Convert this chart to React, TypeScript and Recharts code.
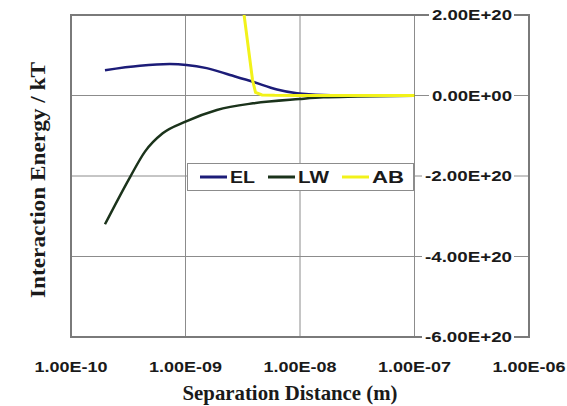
import React from 'react';
import { LineChart, Line, XAxis, YAxis, CartesianGrid, Legend, ReferenceArea } from 'recharts';

// ---- axis ticks ----
const xTicks = [1e-10, 1e-9, 1e-8, 1e-7, 1e-6];
const xTickLabels = ['1.00E-10', '1.00E-09', '1.00E-08', '1.00E-07', '1.00E-06'];
const yTicks = [-6e20, -4e20, -2e20, 0, 2e20];
const yTickLabels = ['-6.00E+20', '-4.00E+20', '-2.00E+20', '0.00E+00', '2.00E+20'];

// ---- series: EL ----
const elDistance = [1.98e-10, 4.0e-10, 7.3e-10, 1.02e-9, 1.53e-9, 2.45e-9, 3.89e-9, 6.3e-9, 9.4e-9, 1.6e-8, 3.2e-8, 1e-7];
const elEnergy = [6.3e19, 7.4e19, 7.8e19, 7.6e19, 6.8e19, 5.1e19, 3.4e19, 1.5e19, 5.5e18, 1.2e18, 2e17, 0];

// ---- series: LW ----
const lwDistance = [1.98e-10, 3.29e-10, 4.41e-10, 6.32e-10, 1e-9, 1.88e-9, 3.89e-9, 9.9e-9, 1.6e-8, 3.2e-8, 1e-7];
const lwEnergy = [-3.2e20, -2.02e20, -1.4e20, -9.4e19, -6.5e19, -3.6e19, -1.94e19, -8.7e18, -4.5e18, -2.5e18, -3e17];

// ---- series: AB ----
const abDistance = [3.05e-9, 3.85e-9, 4.09e-9, 4.66e-9, 6e-9, 1e-8, 1e-7];
const abEnergy = [2.6e20, 3.85e19, 7.5e18, 1.5e18, 5e17, 2e17, 0];

const seriesNames = ['EL', 'LW', 'AB'];
const seriesColors = ['#1c1c78', '#1b331b', '#f2f21a'];
const legendTextWidths = [25, 31, 32];

const toPoints = (xs: number[], ys: number[]) => xs.map((x, i) => ({ x, y: ys[i] }));
const elData = toPoints(elDistance, elEnergy);
const lwData = toPoints(lwDistance, lwEnergy);
const abData = toPoints(abDistance, abEnergy);

const sansFont = '"Liberation Sans", Arial, sans-serif';
const serifFont = '"Liberation Serif", "Times New Roman", serif';

function XTick(props: any) {
  const { x, y, payload } = props;
  const idx = xTicks.indexOf(payload.value);
  const label = idx >= 0 ? xTickLabels[idx] : String(payload.value);
  return (
    <text x={x} y={y + 35} textAnchor="middle" fontFamily={sansFont} fontWeight="bold" fontSize={14}
      fill="#1a1a1a" textLength={73} lengthAdjust="spacingAndGlyphs">{label}</text>
  );
}

function YTick(props: any) {
  const { x, y, payload } = props;
  const idx = yTicks.indexOf(payload.value);
  const label = idx >= 0 ? yTickLabels[idx] : String(payload.value);
  const neg = label.startsWith('-');
  const w = neg ? 87 : 80;
  const right = x - 17;
  return (
    <g>
      <rect x={right - w - 3} y={y - 8} width={w + 5} height={16} fill="#ffffff" />
      <text x={right} y={y} dy="0.36em" textAnchor="end" fontFamily={sansFont} fontWeight="bold" fontSize={14}
        fill="#1a1a1a" textLength={w} lengthAdjust="spacingAndGlyphs">{label}</text>
    </g>
  );
}

function LegendBox(props: any) {
  const raw = props.payload || [];
  const payload = seriesNames
    .map((n) => raw.find((p: any) => p.value === n))
    .filter(Boolean);
  let cursor = 12;
  const items = payload.map((p: any, i: number) => {
    const x0 = cursor;
    const tw = legendTextWidths[i] ?? 28;
    cursor = x0 + 27 + 3 + tw + 13;
    return (
      <g key={i}>
        <line x1={x0} x2={x0 + 27} y1={13} y2={13} stroke={p.color} strokeWidth={3} />
        <text x={x0 + 30} y={13} dy="0.36em" fontFamily={sansFont} fontWeight="bold" fontSize={16}
          fill="#1a1a1a" textLength={tw} lengthAdjust="spacingAndGlyphs">{p.value}</text>
      </g>
    );
  });
  return (
    <div style={{ width: 227, height: 28, background: '#ffffff', border: '1px solid #8c8c8c', boxSizing: 'border-box' }}>
      <svg width={225} height={26} style={{ display: 'block' }}>{items}</svg>
    </div>
  );
}

export default function App() {
  return (
    <div style={{ position: 'absolute', left: 0, top: 0, width: 567, height: 406, background: '#ffffff' }}>
      <LineChart width={567} height={406} margin={{ top: 15, right: 18, left: 71, bottom: 39 }}>
        <CartesianGrid stroke="#8c8c8c" strokeWidth={1} />
        <ReferenceArea x1={1e-10} x2={1e-6} y1={-6e20} y2={2e20} fill="none" stroke="#7a7a7a" strokeWidth={2} />
        <XAxis dataKey="x" type="number" scale="log" domain={[1e-10, 1e-6]} ticks={xTicks} allowDataOverflow
          axisLine={false} tickLine={false} tickSize={0} tickMargin={0} height={30} tick={XTick} interval={0} />
        <YAxis type="number" orientation="right" domain={[-6e20, 2e20]} ticks={yTicks} allowDataOverflow
          axisLine={false} tickLine={false} tickSize={0} tickMargin={0} width={20} tick={YTick} interval={0} />
        <Legend layout="horizontal" verticalAlign="middle" align="center" content={LegendBox}
          wrapperStyle={{ position: 'absolute', left: 187, top: 163, width: 227, height: 28 }} />
        <Line data={elData} dataKey="y" name={seriesNames[0]} type="monotone" stroke={seriesColors[0]} strokeWidth={2.5}
          dot={false} isAnimationActive={false} />
        <Line data={lwData} dataKey="y" name={seriesNames[1]} type="monotone" stroke={seriesColors[1]} strokeWidth={2.5}
          dot={false} isAnimationActive={false} />
        <Line data={abData} dataKey="y" name={seriesNames[2]} type="linear" stroke={seriesColors[2]} strokeWidth={3}
          dot={false} isAnimationActive={false} />
      </LineChart>
      <svg width={567} height={406} style={{ position: 'absolute', left: 0, top: 0, pointerEvents: 'none' }}>
        <text x={290} y={400} textAnchor="middle" fontFamily={serifFont} fontWeight="bold" fontSize={21}
          fill="#1a1a1a" textLength={215} lengthAdjust="spacingAndGlyphs">Separation Distance (m)</text>
        <text transform="translate(45,180) rotate(-90)" textAnchor="middle" fontFamily={serifFont} fontWeight="bold"
          fontSize={22} fill="#1a1a1a" textLength={236} lengthAdjust="spacingAndGlyphs">Interaction Energy / kT</text>
      </svg>
    </div>
  );
}
